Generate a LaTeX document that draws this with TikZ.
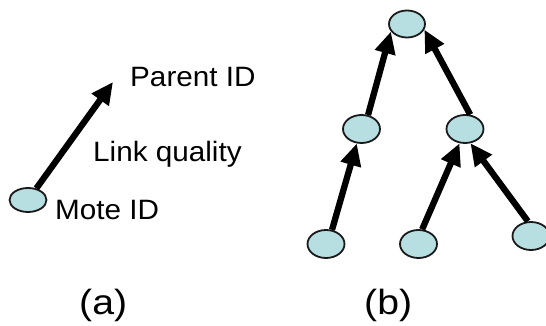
\documentclass[tikz,border=0pt]{standalone}
\usepackage{fontspec}
\setmainfont{Liberation Sans}
\newfontfamily\labfont{Liberation Sans}[FakeStretch=1.06]
\newfontfamily\capfont{Liberation Sans}[FakeStretch=1.12]
\usetikzlibrary{shapes.geometric,arrows.meta}
\definecolor{motefill}{HTML}{B7DEE1}
\definecolor{moteline}{HTML}{1A1A1A}
\tikzset{
  mote/.style={ellipse, draw=moteline, line width=1.8pt, fill=motefill,
    minimum width=37pt, minimum height=28pt, inner sep=0pt},
  link/.style={line width=6.3pt, draw=black,
    -{Triangle[length=22pt,width=20pt]}},
  lab/.style={anchor=base west, inner sep=0pt,
    font=\labfont\fontsize{28pt}{28pt}\selectfont},
  sublabel/.style={anchor=base west, inner sep=0pt,
    font=\capfont\fontsize{35pt}{35pt}\selectfont},
}
\begin{document}
\begin{tikzpicture}[x=1pt,y=-1pt]
  \useasboundingbox (0,0) rectangle (546,326);

  % (a): a single mote and its link record
  \node[mote, minimum height=24pt] (m) at (28,200) {};
  \coordinate (ptip) at (113,82);
  \draw[link] (m) -- (ptip);
  \node[lab] (pid) at (130,87) {Parent ID};
  \node[lab] (lq)  at (93,161) {Link quality};
  \node[lab] (mid) at (55,219) {Mote ID};
  \node[sublabel] (ca) at (79,314) {(a)};

  % (b): the collection tree
  \node[mote, minimum width=36pt, minimum height=27pt] (root) at (407,24) {};
  \node[mote] (ml) at (361.5,129) {};
  \node[mote] (mr) at (465,129) {};
  \node[mote] (bl) at (326,244) {};
  \node[mote] (bm) at (418.5,244) {};
  \node[mote] (br) at (531,236) {};

  \draw[link] (ml.65)  -- (root.205);
  \draw[link] (mr.70)  -- (root.342);
  \draw[link] (bl.67)  -- (ml.252);
  \draw[link] (bm.76)  -- (mr.249);
  \draw[link] (br.102) -- (mr.291);

  \node[sublabel] (cb) at (364,314) {(b)};
\end{tikzpicture}
\end{document}
